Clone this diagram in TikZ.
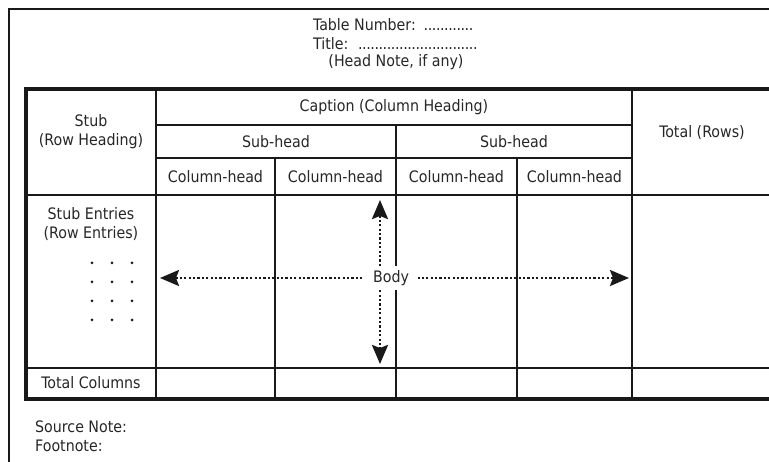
\documentclass[tikz,border=0pt]{standalone}
\usepackage{fontspec}
\setmainfont{DejaVu Sans Condensed}
\usetikzlibrary{arrows.meta}
% a run of closely set leader dots of the given width
\newcommand\leaderdots[1]{\leavevmode\leaders\hbox to 4.1pt{\hss.\hss}\hskip#1\relax}
\begin{document}
\begin{tikzpicture}[x=1pt,y=-1pt,
  txt/.style={font=\fontsize{15.8}{19}\selectfont, text=black!85, inner sep=0pt, align=center},
  grid/.style={line width=2.6pt, black!90},
  border/.style={line width=3.4pt, black!90},
  frame/.style={line width=2.2pt, black!90},
  flow/.style={line width=2.4pt, black!90, dash pattern=on 2.2pt off 2.2pt,
    {Stealth[length=19pt,width=16pt,inset=3pt]}-{Stealth[length=19pt,width=16pt,inset=3pt]}},
  entrydot/.style={black!90}]
\useasboundingbox (0,0) rectangle (769,462);
\clip (0,0) rectangle (769,462);

% page frame
\draw[frame] (9,475) -- (9,9) -- (785,9);

% table header block
\node[txt, anchor=base west] (tabnum) at (313,30.5) {Table Number: \leaderdots{54pt}};
\node[txt, anchor=base west] (title) at (313,49.3) {Title: \leaderdots{124pt}};
\node[txt, anchor=base] (headnote) at (396,67) {(Head Note, if any)};

% grid lines
\draw[grid] (156,125) -- (632,125);
\draw[grid] (156,158) -- (632,158);
\draw[grid] (26,195) -- (780,195);
\draw[grid] (26,368) -- (780,368);
\draw[grid] (156,89) -- (156,399);
\draw[grid] (275,158) -- (275,399);
\draw[grid] (396,125) -- (396,399);
\draw[grid] (517,158) -- (517,399);
\draw[grid] (632,89) -- (632,399);
\draw[border] (26,89) rectangle (785,399);

% headings
\node[txt] (caption) at (394,107) {Caption (Column Heading)};
\node[txt] (sub1) at (276,142) {Sub-head};
\node[txt] (sub2) at (514,142) {Sub-head};
\node[txt] (ch1) at (215.5,176.5) {Column-head};
\node[txt] (ch2) at (335.5,176.5) {Column-head};
\node[txt] (ch3) at (456.5,176.5) {Column-head};
\node[txt] (ch4) at (574.5,176.5) {Column-head};
\node[txt] (stub) at (91,131.5) {Stub\\(Row Heading)};
\node[txt] (totrows) at (702,133) {Total (Rows)};

% stub column
\node[txt] (entries) at (91,224.5) {Stub Entries\\(Row Entries)};
\foreach \yy in {263,282,301,320}
  \foreach \xx in {92,112,132}
    \fill[entrydot] (\xx,\yy) circle (1.5pt);
\node[txt] (totcols) at (91,383) {Total Columns};

% notes
\node[txt, anchor=west] (source) at (35,427) {Source Note:};
\node[txt, anchor=west] (foot) at (35,446) {Footnote:};

% body extent arrows
\coordinate (hl) at (160,278);
\coordinate (hr) at (629,278);
\coordinate (vt) at (380,200);
\coordinate (vb) at (380,364);
\draw[flow] (hl) -- (hr);
\draw[flow] (vt) -- (vb);
\node[txt, fill=white, inner xsep=9pt, inner ysep=4pt] (body) at (391,278) {Body};
\end{tikzpicture}
\end{document}
